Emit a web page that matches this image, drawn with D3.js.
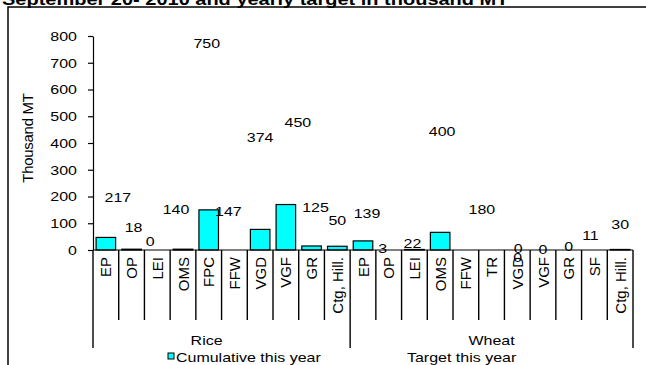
<!DOCTYPE html>
<meta charset="utf-8">
<script src="https://d3js.org/d3.v7.min.js"></script>
<style>
  body { margin: 0; background: #fff; }
  text { font-family: Arial, "Liberation Sans", sans-serif; fill: #000; }
</style>
<div id="chart"></div>
<script>
    const riceCats = ["EP","OP","LEI","OMS","FPC","FFW","VGD","VGF","GR","Ctg, Hill."]
    const wheatCats = ["EP","OP","LEI","OMS","FFW","TR","VGD","VGF","GR","SF","Ctg, Hill."]
    const riceCumulative = [47,3,0,3,150,0,77,170,15,14]
    const riceTarget = [217,18,0,140,750,147,374,450,125,50]
    const wheatCumulative = [34,0,2,66,0,0,0,0,0,0,2]
    const wheatTarget = [139,3,22,400,180,0,0,0,0,11,30]
    const yTicks = [0,100,200,300,400,500,600,700,800]

    // hand-moved data labels in the original (dx, dy in px)
    const labelNudge = [[12,5],[2,-18],[-7,-9],[-7,-3],[-2,-6],[-6,1],[0,-13],[12,-7],[4,-9],[0,-16],
                        [4,0],[-6,-1],[-2,-1],[2,-12],[16,7],[26,7],[1,-2],[0,-1],[0,-4],[-4,-12],[0,-18]]

    const data = []
    riceCats.forEach((c,i) => data.push({group:"Rice", cat:c, cum:riceCumulative[i], target:riceTarget[i]}))
    wheatCats.forEach((c,i) => data.push({group:"Wheat", cat:c, cum:wheatCumulative[i], target:wheatTarget[i]}))
    data.forEach((d,i) => d.key = i)

    const W = 646, H = 365
    const squash = "scale(1,0.85)"   // the original text is stretched sideways
    const svg = d3.select("#chart").append("svg")
        .attr("width", W).attr("height", H)

    svg.append("rect").attr("width", W).attr("height", H).attr("fill", "#fff")
    svg.append("rect")
        .attr("x", 8).attr("y", 7).attr("width", W).attr("height", H)
        .attr("fill", "none").attr("stroke", "#000").attr("stroke-width", 1.5)

    svg.append("g").attr("transform", "translate(2,5) " + squash)
        .append("text")
        .style("font-size", "20px").style("font-weight", "bold")
        .text("September 20- 2010 and yearly target in thousand MT")

    const x = d3.scaleBand().domain(data.map(d => d.key)).range([93, 633]).padding(0)
    const y = d3.scaleLinear().domain([0, 800]).range([250, 36])
    const barW = x.bandwidth() * 0.76

    const yAxis = svg.append("g")
        .attr("transform", "translate(93,0)")
        .call(d3.axisLeft(y).tickValues(yTicks).tickSize(5).tickSizeOuter(0).tickPadding(11))
    yAxis.select(".domain").attr("stroke", "#000").attr("stroke-width", 1.2)
    yAxis.selectAll("line").attr("stroke", "#000").attr("stroke-width", 1.2)
    yAxis.selectAll("text").style("font-size", "16px").attr("font-family", null)
        .attr("transform", squash)

    svg.append("text")
        .attr("transform", "translate(33,138) rotate(-90)")
        .attr("text-anchor", "middle")
        .style("font-size", "15px").style("letter-spacing", "-0.3px")
        .text("Thousand MT")

    // bars
    svg.selectAll("rect.bar")
        .data(data)
        .join("rect")
        .attr("class", "bar")
        .attr("x", d => x(d.key) + (x.bandwidth() - barW) / 2)
        .attr("y", d => y(d.cum))
        .attr("width", barW)
        .attr("height", d => y(0) - y(d.cum))
        .attr("fill", "#00ffff")
        .attr("stroke", "#000")
        .attr("stroke-width", 1.2)

    // baseline
    svg.append("line")
        .attr("x1", 93).attr("x2", 633).attr("y1", y(0)).attr("y2", y(0))
        .attr("stroke", "#000").attr("stroke-width", 1.2)

    // category separators
    const bounds = d3.range(data.length + 1)
    const groupEdges = [0, riceCats.length, data.length]
    const edgeX = i => i < data.length ? x(i) : x(data.length - 1) + x.bandwidth()
    svg.selectAll("line.sep")
        .data(bounds)
        .join("line")
        .attr("class", "sep")
        .attr("x1", edgeX).attr("x2", edgeX)
        .attr("y1", y(0))
        .attr("y2", i => groupEdges.includes(i) ? 348 : 320)
        .attr("stroke", "#000").attr("stroke-width", 1.4)

    // category labels
    svg.selectAll("text.cat")
        .data(data)
        .join("text")
        .attr("class", "cat")
        .attr("transform", d => `translate(${x(d.key) + x.bandwidth() / 2 + 5.5},257) rotate(-90)`)
        .attr("text-anchor", "end")
        .style("font-size", "15px")
        .text(d => d.cat)

    // group labels
    const groups = [
        {name: "Rice", from: 0, to: riceCats.length, dx: -15},
        {name: "Wheat", from: riceCats.length, to: data.length, dx: 0}
    ]
    svg.selectAll("g.grp")
        .data(groups)
        .join("g")
        .attr("class", "grp")
        .attr("transform", g => `translate(${(x(g.from) + edgeX(g.to)) / 2 + g.dx},345) ${squash}`)
        .append("text")
        .attr("text-anchor", "middle")
        .style("font-size", "16px")
        .text(g => g.name)

    // target labels
    svg.selectAll("g.val")
        .data(data)
        .join("g")
        .attr("class", "val")
        .attr("transform", (d, i) => `translate(${x(d.key) + x.bandwidth() / 2 + labelNudge[i][0]},${y(d.target) + labelNudge[i][1]}) ${squash}`)
        .append("text")
        .attr("dy", "0.35em")
        .attr("text-anchor", "middle")
        .style("font-size", "16px")
        .text(d => d.target)

    // legend
    const legend = svg.append("g").attr("transform", "translate(168,353)")
    legend.append("rect").attr("width", 6).attr("height", 6)
        .attr("fill", "#00ffff").attr("stroke", "#000").attr("stroke-width", 1)
    legend.append("g").attr("transform", "translate(8,9) " + squash)
        .append("text").style("font-size", "16px").text("Cumulative this year")
    legend.append("g").attr("transform", "translate(239,9) " + squash)
        .append("text").style("font-size", "16px").text("Target this year")
</script>
